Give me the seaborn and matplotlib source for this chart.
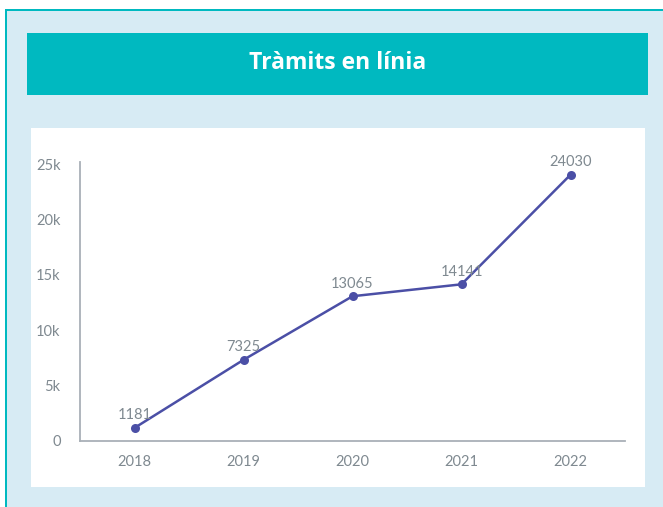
import matplotlib
matplotlib.use("Agg")
import matplotlib.pyplot as plt
import seaborn as sns
import pandas as pd
from matplotlib.patches import Rectangle

years = ["2018", "2019", "2020", "2021", "2022"]
values = [1181, 7325, 13065, 14141, 24030]
ytick_vals = [0, 5000, 10000, 15000, 20000, 25000]
ytick_labels = ["0", "5k", "10k", "15k", "20k", "25k"]
title = "Tràmits en línia"

W, H = 663, 507
sns.set_theme(style="white")
plt.rcParams['font.family'] = ['Lato', 'DejaVu Sans']

fig = plt.figure(figsize=(W / 100, H / 100), dpi=100)
fig.patch.set_facecolor("white")

def rect(x0, y0, x1, y1, color, z=0):
    # pixel coords (top-left origin)
    fig.patches.append(Rectangle((x0 / W, 1 - y1 / H), (x1 - x0) / W, (y1 - y0) / H,
                                 transform=fig.transFigure, facecolor=color,
                                 edgecolor="none", zorder=z))

teal = "#00b9c0"
rect(5, 9, W, H, teal, 0)          # border
rect(7, 11, W, H, "#d7ebf4", 1)    # light blue background
rect(27, 33, 648, 95, teal, 2)     # banner
rect(31, 128, 645, 487, "white", 2)  # white panel

fig.text((27 + 648) / 2 / W, 1 - 63 / H, title, color="white", fontsize=16.5,
         fontweight="bold", ha="center", va="center", family=["Open Sans", "DejaVu Sans"])

ax = fig.add_axes([80 / W, 1 - 441 / H, (625 - 80) / W, (441 - 162) / H])
ax.set_facecolor("none")
ax.set_zorder(5)

df = pd.DataFrame({"year": years, "value": values})
line_color = "#4b4fa6"
sns.lineplot(data=df, x="year", y="value", ax=ax, color=line_color, linewidth=1.8,
             marker="o", markersize=6.5, markeredgewidth=0, sort=False)

for i, v in enumerate(values):
    ax.annotate(str(v), (i, v), xytext=(0, 4), textcoords="offset points",
                ha="center", va="bottom", color="#7f8990", fontsize=10.5)

ax.set_xlim(-0.5, 4.5)
ax.set_ylim(0, 25000 * (441 - 162) / (441 - 164))
ax.set_yticks(ytick_vals)
ax.set_yticklabels(ytick_labels)
ax.set_xlabel("")
ax.set_ylabel("")
ax.tick_params(axis="both", length=0, colors="#7f8990", labelsize=10.5)
ax.tick_params(axis="y", pad=14)
ax.tick_params(axis="x", pad=10)
for s in ["top", "right"]:
    ax.spines[s].set_visible(False)
for s in ["left", "bottom"]:
    ax.spines[s].set_color("#a9b0b7")
    ax.spines[s].set_linewidth(1.3)
ax.grid(False)

fig.savefig("out.png", dpi=100, facecolor=fig.get_facecolor())
